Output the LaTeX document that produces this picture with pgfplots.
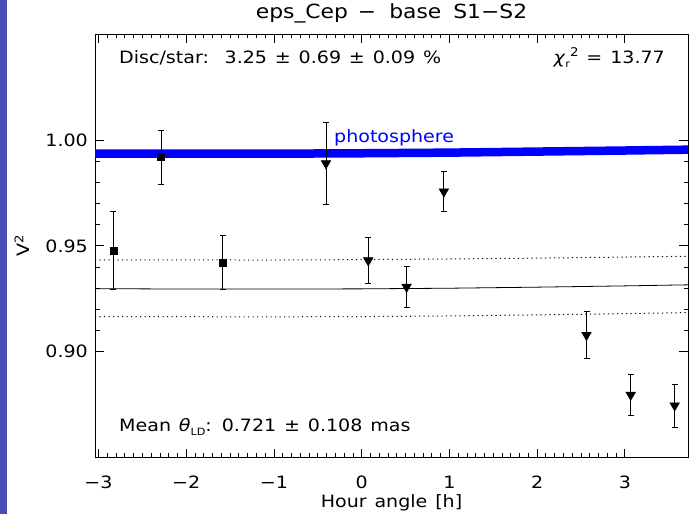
\documentclass[border=0pt]{standalone}
\usepackage{pgfplots}
\pgfplotsset{compat=1.18}
\usepackage{fontspec}
\setmainfont{DejaVu Sans}[FakeStretch=1.12, WordSpace=1.3]
\definecolor{sidebar}{RGB}{72,76,180}
\definecolor{photblue}{RGB}{0,0,255}

\pgfplotstableread{
x y e
-2.830 0.9479 0.0185
-2.286 0.9919 0.0128
-1.583 0.9422 0.0126
}\squares

\pgfplotstableread{
x y e
-0.407 0.9889 0.0193
0.075 0.9431 0.0110
0.512 0.9306 0.0097
0.937 0.9756 0.0094
2.563 0.9079 0.0110
3.067 0.8796 0.0096
3.568 0.8746 0.0101
}\triangles

\begin{document}
\begin{tikzpicture}
\useasboundingbox (0,0) rectangle (689bp,514bp);
\fill[sidebar] (0,0) rectangle (6.5bp,514bp);
\begin{axis}[
  at={(95bp,56.3bp)}, anchor=south west,
  scale only axis, width=593bp, height=423.7bp,
  xmin=-3.04, xmax=3.72, ymin=0.85, ymax=1.05,
  xtick={-3,-2,-1,0,1,2,3}, xticklabels={−3,−2,−1,0,1,2,3},
  ytick={0.90,0.95,1.00}, yticklabels={0.90,0.95,1.00},
  minor x tick num=9, minor y tick num=4,
  tick align=inside, major tick length=9bp, minor tick length=4.5bp,
  axis line style={line width=0.9bp, black},
  tick style={line width=0.8bp, black},
  font=\fontsize{17bp}{20bp}\selectfont,
  title={eps\_Cep\hspace{10bp}−\hspace{13bp}base\hspace{12bp}S1−S2},
  title style={at={(0.5,1)}, anchor=base, yshift=10bp, font=\fontsize{19.5bp}{22bp}\selectfont},
  xlabel={Hour angle [h]},
  xlabel style={at={(axis description cs:0.5,0)}, anchor=base, yshift=-50bp},
  ylabel={V\textsuperscript{2}},
  ylabel style={at={(axis description cs:-0.123,0.5)}, anchor=center},
  xticklabel style={anchor=base, yshift=-31bp},
  yticklabel style={anchor=east, inner sep=0pt, xshift=-7bp},
]
\addplot[photblue, line width=8.5bp] coordinates {
(-3.04,0.9935) (-2,0.9935) (-1,0.9935) (0,0.9937) (1,0.9940) (2,0.9945) (3,0.9950) (3.72,0.9954)};
\addplot[black, line width=0.8bp] coordinates {
(-3.04,0.9298) (-2,0.9296) (-1,0.9296) (0,0.9297) (1,0.9300) (2,0.9305) (3,0.9311) (3.72,0.9316)};
\addplot[black, line width=1bp, dash pattern=on 1.2bp off 3.3bp] coordinates {
(-3.04,0.9434) (-1,0.9433) (0,0.9435) (1,0.9438) (2,0.9442) (3,0.9447) (3.72,0.9451)};
\addplot[black, line width=1bp, dash pattern=on 1.2bp off 3.3bp] coordinates {
(-3.04,0.9166) (-1,0.9165) (0,0.9166) (1,0.9169) (2,0.9174) (3,0.9180) (3.72,0.9185)};
\addplot[black, only marks, mark=square*, mark size=3.5bp,
  error bars/.cd, y dir=both, y explicit,
  error bar style={line width=0.8bp, black},
  error mark options={rotate=90, black, mark size=3bp, line width=0.8bp}]
  table[x=x, y=y, y error=e] {\squares};
\addplot[black, only marks, mark=triangle*, mark size=5.6bp, mark options={rotate=180},
  error bars/.cd, y dir=both, y explicit,
  error bar style={line width=0.8bp, black},
  error mark options={rotate=90, black, mark size=3bp, line width=0.8bp}]
  table[x=x, y=y, y error=e] {\triangles};
\end{axis}
\begin{scope}[font=\fontsize{17bp}{20bp}\selectfont]
\node[anchor=base west, inner sep=0pt] at (119bp,450bp) {Disc/star:\ \ 3.25 ± 0.69 ± 0.09 \%};
\node[anchor=base east, inner sep=0pt] at (665bp,450bp) {\textit{χ}\raisebox{-0.4ex}{\fontsize{10bp}{12bp}\selectfont r}\raisebox{0.85ex}{\fontsize{12bp}{14bp}\selectfont 2} = 13.77};
\node[anchor=base west, inner sep=0pt] at (119bp,82bp) {Mean \textit{θ}\raisebox{-0.4ex}{\fontsize{10bp}{12bp}\selectfont LD}: 0.721 ± 0.108 mas};
\node[anchor=base west, inner sep=0pt, text=photblue] at (334bp,371bp) {photosphere};
\end{scope}
\end{tikzpicture}
\end{document}
